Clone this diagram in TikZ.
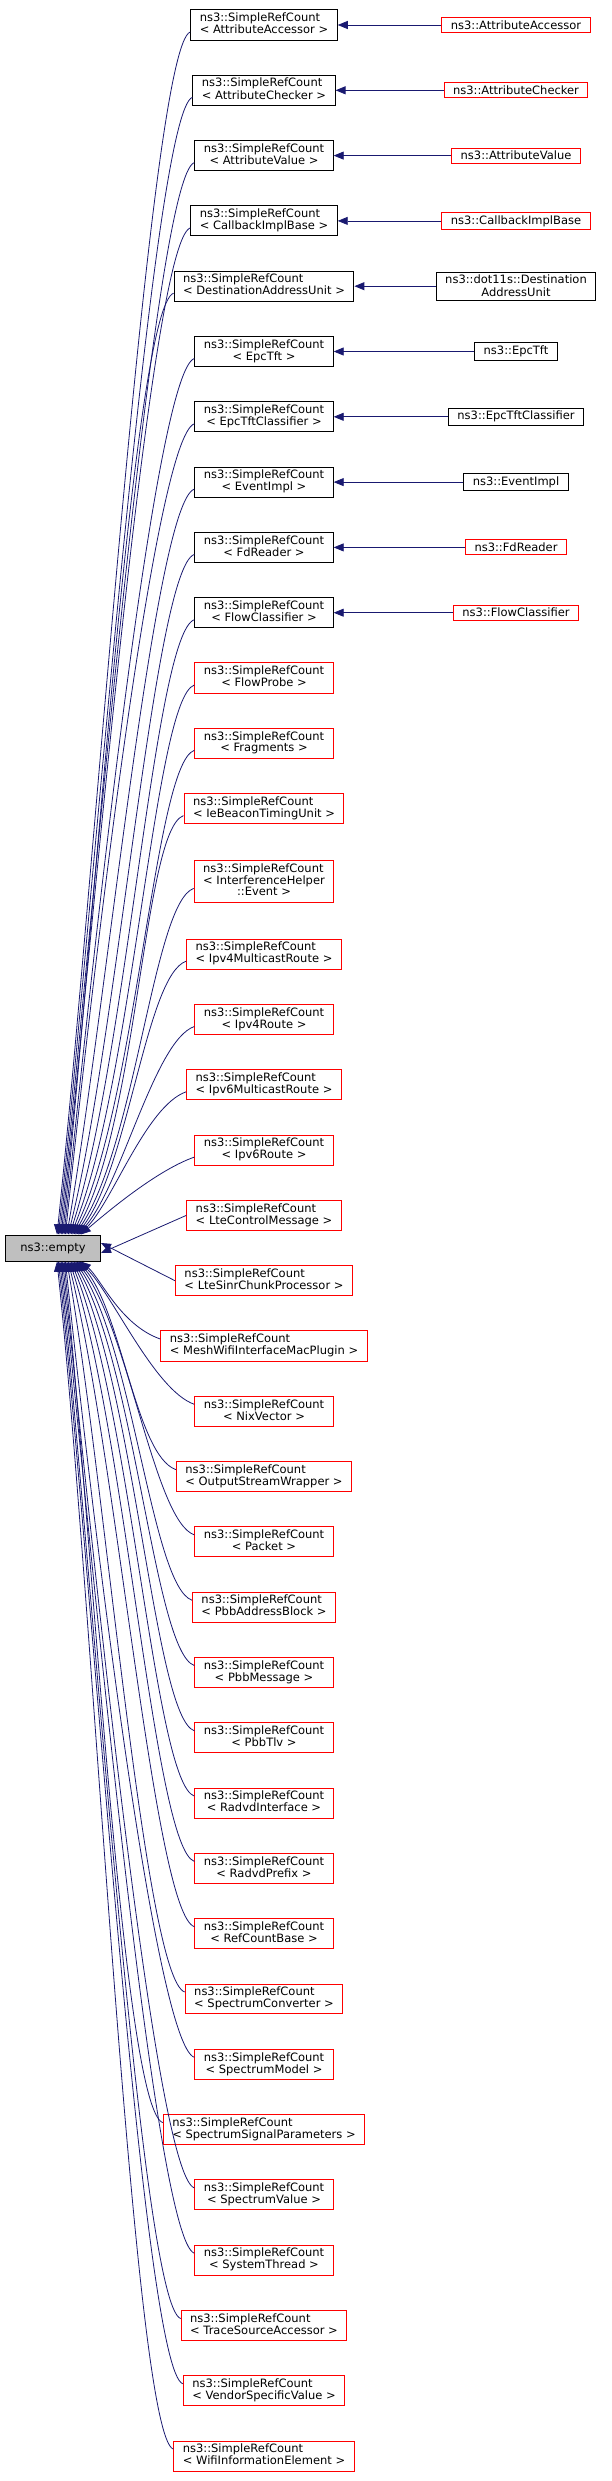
\documentclass[tikz,border=0pt]{standalone}
\usepackage{fontspec}
\setmainfont{DejaVu Sans}
\usetikzlibrary{arrows.meta}
\definecolor{edgeblue}{HTML}{191970}
\newcommand{\src}[1]{\begin{tabular}{@{}c@{}}\multicolumn{1}{@{}l@{}}{ns3::SimpleRefCount}\\#1\end{tabular}}
\tikzset{
  box/.style={draw=#1, fill=white, line width=1pt, inner xsep=9pt, inner ysep=3pt,
    font=\fontsize{11.5}{13}\selectfont, align=center},
  edge/.style={draw=edgeblue, line width=0.8pt, -{Triangle[length=10pt,width=8pt]}}
}
\begin{document}
\begin{tikzpicture}[x=1pt,y=-1pt]
\useasboundingbox (0,0) rectangle (611,2481);
\renewcommand{\arraystretch}{0.85}

\node[box=black, fill=black!25, minimum width=95pt, minimum height=26pt] (empty) at (53,1248) {ns3::empty};

% left column
\foreach \lbl/\col [count=\i from 0] in {
  {< AttributeAccessor >}/black, {< AttributeChecker >}/black, {< AttributeValue >}/black,
  {< CallbackImplBase >}/black, {< DestinationAddressUnit >}/black, {< EpcTft >}/black,
  {< EpcTftClassifier >}/black, {< EventImpl >}/black, {< FdReader >}/black,
  {< FlowClassifier >}/black, {< FlowProbe >}/red, {< Fragments >}/red,
  {< IeBeaconTimingUnit >}/red, {< InterferenceHelper\\::Event >}/red,
  {< Ipv4MulticastRoute >}/red, {< Ipv4Route >}/red, {< Ipv6MulticastRoute >}/red,
  {< Ipv6Route >}/red, {< LteControlMessage >}/red, {< LteSinrChunkProcessor >}/red,
  {< MeshWifiInterfaceMacPlugin >}/red, {< NixVector >}/red, {< OutputStreamWrapper >}/red,
  {< Packet >}/red, {< PbbAddressBlock >}/red, {< PbbMessage >}/red, {< PbbTlv >}/red,
  {< RadvdInterface >}/red, {< RadvdPrefix >}/red, {< RefCountBase >}/red,
  {< SpectrumConverter >}/red, {< SpectrumModel >}/red, {< SpectrumSignalParameters >}/red,
  {< SpectrumValue >}/red, {< SystemThread >}/red, {< TraceSourceAccessor >}/red,
  {< VendorSpecificValue >}/red, {< WifiInformationElement >}/red}
{
  \pgfmathsetmacro\yc{25+65.3*\i+(\i>13)*15+(\i==13)*7.5}
  \node[box=\col] (l\i) at (264,\yc) {\src{\lbl}};
}

% right column
\foreach \lbl/\col [count=\i from 0] in {
  ns3::AttributeAccessor/red, ns3::AttributeChecker/red, ns3::AttributeValue/red,
  ns3::CallbackImplBase/red, {ns3::dot11s::Destination\\AddressUnit}/black,
  ns3::EpcTft/black, ns3::EpcTftClassifier/black, ns3::EventImpl/black,
  ns3::FdReader/red, ns3::FlowClassifier/red}
{
  \node[box=\col] (r\i) at (516,{25+65.3*\i}) {\lbl};
  \draw[edge] (r\i.west) -- (l\i.east);
}

% edges to ns3::empty
\foreach \i in {0,...,17}{
  \pgfmathsetmacro\tx{52+\i*1.4}
  \pgfmathsetmacro\ang{84-max(0,\i-6)*4}
  \pgfmathsetmacro\k{0.3*(1235-(25+65.3*\i+(\i>13)*15))}
  \draw[edge] ([yshift=-7pt]l\i.west) .. controls +(-40,14) and +({\k*cos(\ang)},{-\k*sin(\ang)})
    .. ([xshift=\tx pt]empty.north west);
}
\foreach \i in {20,...,37}{
  \pgfmathsetmacro\tx{52+(37-\i)*1.4}
  \pgfmathsetmacro\ang{84-max(0,31-\i)*4}
  \pgfmathsetmacro\k{0.3*(25+65.3*\i+15-1261)}
  \draw[edge] ([yshift=7pt]l\i.west) .. controls +(-40,-14) and +({\k*cos(\ang)},{\k*sin(\ang)})
    .. ([xshift=\tx pt]empty.south west);
}
\draw[edge] (l18.west) -- ([yshift=-5pt]empty.east);
\draw[edge] (l19.west) -- ([yshift=5pt]empty.east);
\end{tikzpicture}
\end{document}
